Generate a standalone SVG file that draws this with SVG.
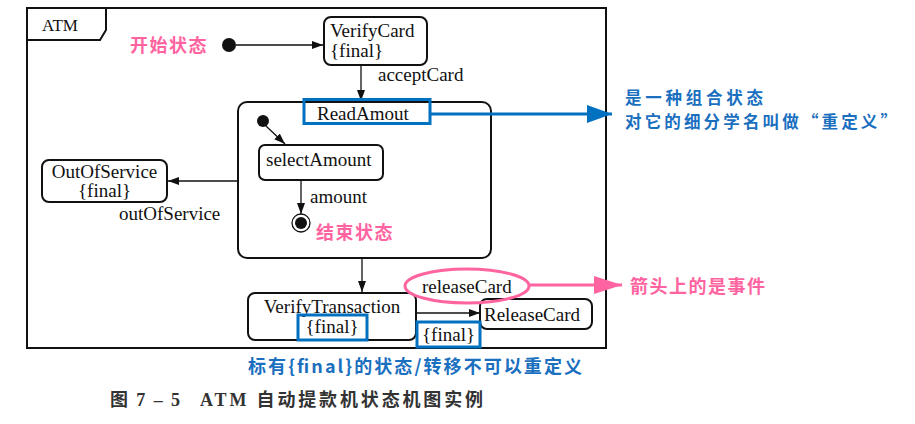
<svg xmlns="http://www.w3.org/2000/svg" width="915" height="424" viewBox="0 0 915 424">
<style>
.st{fill:#fff;stroke:#111;stroke-width:2}
.ln{stroke:#111;stroke-width:1.3;fill:none}
.en{font-family:"Liberation Serif",serif;font-size:19px;fill:#111}
.pk{font-family:"Noto Sans CJK SC",sans-serif;font-size:18px;fill:#ff64a0;font-weight:bold;letter-spacing:1.5px}
.bl{font-family:"Noto Sans CJK SC",sans-serif;font-size:18px;fill:#1a6fbf;font-weight:bold}
.bbox{fill:none;stroke:#0070c0;stroke-width:3}
.cap{font-family:"Liberation Serif","Noto Sans CJK SC",serif;font-size:18px;font-weight:bold;fill:#333}
</style>
<defs>
<marker id="ah" viewBox="0 0 10 10" refX="10" refY="5" markerWidth="11" markerHeight="8" markerUnits="userSpaceOnUse" orient="auto" preserveAspectRatio="none"><path d="M0,0 L10,5 L0,10 z" fill="#111"/></marker>
<marker id="ahb" viewBox="0 0 10 10" refX="10" refY="5" markerWidth="25" markerHeight="18" markerUnits="userSpaceOnUse" orient="auto" preserveAspectRatio="none"><path d="M0,0 L10,5 L0,10 z" fill="#0070c0"/></marker>
<marker id="ahp" viewBox="0 0 10 10" refX="10" refY="5" markerWidth="28" markerHeight="18" markerUnits="userSpaceOnUse" orient="auto" preserveAspectRatio="none"><path d="M0,0 L10,5 L0,10 z" fill="#ff64a0"/></marker>
</defs>
<rect width="915" height="424" fill="#fff"/>
<g id="frame">
<rect x="27" y="8" width="579" height="340" fill="none" stroke="#111" stroke-width="2"/>
<path d="M27,40 H100 L106,30 V8" fill="none" stroke="#111" stroke-width="2"/>
<text class="en" x="42" y="31" style="font-size:17px">ATM</text>
</g>
<g id="connectors">
<line class="ln" x1="236" y1="45" x2="323" y2="45" marker-end="url(#ah)"/>
<line class="ln" x1="361" y1="65" x2="361" y2="101" marker-end="url(#ah)"/>
<text class="en" x="378" y="81">acceptCard</text>
<line class="ln" x1="266" y1="126" x2="285" y2="144" marker-end="url(#ah)"/>
<line class="ln" x1="301" y1="180" x2="301" y2="214" marker-end="url(#ah)"/>
<text class="en" x="310" y="203">amount</text>
<line class="ln" x1="238" y1="181" x2="168" y2="181" marker-end="url(#ah)"/>
<text class="en" x="119" y="220">outOfService</text>
<line class="ln" x1="362" y1="258" x2="362" y2="292" marker-end="url(#ah)"/>
<line class="ln" x1="416" y1="313" x2="480" y2="313" marker-end="url(#ah)"/>
</g>
<g id="start">
<circle cx="229" cy="45" r="7" fill="#111"/>
</g>
<g id="verifyCard">
<rect class="st" x="324" y="17" width="103" height="48" rx="7"/>
<text class="en" x="330" y="37">VerifyCard</text>
<text class="en" x="330" y="57">{final}</text>
</g>
<g id="readAmout">
<rect class="st" x="238" y="102" width="253" height="156" rx="9" style="fill:none"/>
<text class="en" x="317" y="120">ReadAmout</text>
</g>
<g id="innerStart">
<circle cx="263" cy="121" r="6" fill="#111"/>
</g>
<g id="selectAmount">
<rect class="st" x="259" y="145" width="124" height="35" rx="6"/>
<text class="en" x="266" y="166">selectAmount</text>
</g>
<g id="endState">
<circle cx="301" cy="223" r="9" fill="#fff" stroke="#111" stroke-width="1.3"/>
<circle cx="301" cy="223" r="6" fill="#111"/>
</g>
<g id="outOfService">
<rect class="st" x="42" y="160" width="125" height="42" rx="7"/>
<text class="en" x="104.5" y="178" text-anchor="middle">OutOfService</text>
<text class="en" x="104.5" y="197" text-anchor="middle">{final}</text>
</g>
<g id="verifyTransaction">
<rect class="st" x="248" y="293" width="168" height="47" rx="7"/>
<text class="en" x="332" y="313" text-anchor="middle">VerifyTransaction</text>
<text class="en" x="332" y="333" text-anchor="middle">{final}</text>
</g>
<g id="releaseCard">
<rect class="st" x="480" y="299" width="112" height="30" rx="7"/>
<text class="en" x="484" y="321">ReleaseCard</text>
</g>
<g id="annotations">
<text class="pk" x="130" y="52">开始状态</text>
<text class="pk" x="316" y="239">结束状态</text>
<rect class="bbox" x="304" y="99.5" width="126" height="24"/>
<line x1="430" y1="114" x2="612" y2="114" stroke="#0070c0" stroke-width="3" marker-end="url(#ahb)"/>
<text class="bl" x="625" y="104" textLength="138" lengthAdjust="spacing" style="font-size:16.5px">是一种组合状态</text>
<text class="bl" x="625" y="128" textLength="272" lengthAdjust="spacing" style="font-size:16.5px">对它的细分学名叫做“重定义”</text>
<ellipse cx="467" cy="286" rx="62" ry="17" fill="none" stroke="#ff64a0" stroke-width="3"/>
<text class="en" x="422" y="293">releaseCard</text>
<line x1="529" y1="285" x2="622" y2="285" stroke="#ff64a0" stroke-width="3" marker-end="url(#ahp)"/>
<text class="pk" x="630" y="293">箭头上的是事件</text>
<rect class="bbox" x="298" y="315" width="69" height="25"/>
<rect class="bbox" x="417" y="322" width="63" height="25"/>
<text class="en" x="448.5" y="341" text-anchor="middle">{final}</text>
<text class="bl" x="248" y="373" textLength="334" lengthAdjust="spacing">标有{final}的状态/转移不可以重定义</text>
</g>
<g id="caption">
<text class="cap" x="110" y="406" textLength="70" lengthAdjust="spacing">图 7 – 5</text>
<text class="cap" x="200" y="406" textLength="283" lengthAdjust="spacing">ATM 自动提款机状态机图实例</text>
</g>
</svg>
